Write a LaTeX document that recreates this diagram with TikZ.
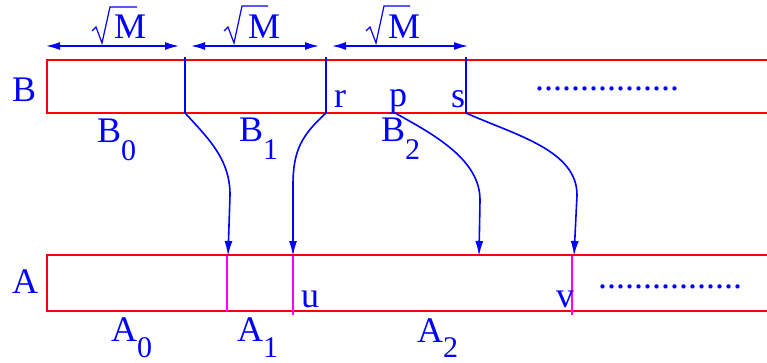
\documentclass[tikz,border=0pt]{standalone}
\usepackage{fontspec}
\setmainfont{Liberation Serif}
\usetikzlibrary{arrows.meta}
\definecolor{lblue}{RGB}{0,0,255}
\definecolor{lred}{RGB}{255,0,0}
\definecolor{lmag}{RGB}{255,0,255}
\newcommand\subl[3][18pt]{#2\raisebox{-#1}{\fontsize{30}{30}\selectfont #3}}
\begin{document}
\begin{tikzpicture}[x=1pt,y=-1pt,
  txt/.style={text=lblue,font=\fontsize{36}{36}\selectfont,inner sep=0pt,anchor=base west},
  redline/.style={draw=lred,line width=1.7pt},
  blueline/.style={draw=lblue,line width=1.6pt},
  radical/.style={draw=lblue,line width=1.2pt,line join=miter},
  magline/.style={draw=lmag,line width=1.3pt},
  dimarrow/.style={blueline,{Latex[length=14pt,width=8pt]}-{Latex[length=14pt,width=8pt]}},
  maparrow/.style={blueline,-{Latex[length=15pt,width=8pt]}}]
\useasboundingbox (0,0) rectangle (767,363);
% rectangles
\coordinate (Btl) at (47,60); \coordinate (Bbl) at (47,113);
\coordinate (Btr) at (790,60); \coordinate (Bbr) at (790,113);
\coordinate (Atl) at (47,255); \coordinate (Abl) at (47,311);
\coordinate (Atr) at (790,255); \coordinate (Abr) at (790,311);
\draw[redline] (Btr) -- (Btl) -- (Bbl) -- (Bbr);
\draw[redline] (Atr) -- (Atl) -- (Abl) -- (Abr);
% dimension arrows
\coordinate (d1a) at (46,46); \coordinate (d1b) at (179,46);
\coordinate (d2a) at (191,46); \coordinate (d2b) at (319,46);
\coordinate (d3a) at (332,46); \coordinate (d3b) at (468,46);
\draw[dimarrow] (d1a) -- (d1b);
\draw[dimarrow] (d2a) -- (d2b);
\draw[dimarrow] (d3a) -- (d3b);
% sqrt M labels
\draw[radical] (92,31) -- (96,27) -- (102,43) -- (110,7) -- (137,7);
\draw[radical] (224,31) -- (228,27) -- (234,43) -- (242,6) -- (268,6);
\draw[radical] (366,31) -- (370,27) -- (376,43) -- (384,6) -- (410,6);
\node[txt] (m1) at (114,39) {M};
\node[txt] (m2) at (248,39) {M};
\node[txt] (m3) at (388,39) {M};
% block boundaries in B
\coordinate (t1) at (185,57); \coordinate (b1) at (185,113);
\coordinate (t2) at (326,57); \coordinate (b2) at (326,113);
\coordinate (t3) at (466,57); \coordinate (b3) at (466,113);
\coordinate (pp) at (395,113);
\draw[blueline] (t1) -- (b1);
\draw[blueline] (t2) -- (b2);
\draw[blueline] (t3) -- (b3);
% targets in A
\coordinate (e1) at (228,256); \coordinate (e2) at (293,256);
\coordinate (e3) at (479,256); \coordinate (e4) at (574,256);
\coordinate (g1) at (227,256); \coordinate (f1) at (227,312);
\coordinate (g2) at (293,256); \coordinate (f2) at (293,315);
\coordinate (g4) at (572,256); \coordinate (f4) at (572,315);
\draw[magline] (g1) -- (f1);
\draw[magline] (g2) -- (f2);
\draw[magline] (g4) -- (f4);
% mapping arrows
\draw[maparrow] (b1) .. controls (210,140) and (230,160) .. (230,195) -- (e1);
\draw[maparrow] (b2) .. controls (302,135) and (293,150) .. (293,185) -- (e2);
\draw[maparrow] (pp) .. controls (435,135) and (480,160) .. (480,200) -- (e3);
\draw[maparrow] (b3) .. controls (515,135) and (577,150) .. (577,195) -- (e4);
% labels
\node[txt] (lB) at (12,102) {B};
\node[txt] (lA) at (12,293) {A};
\node[txt] (B0) at (97,143) {\subl{B}{0}};
\node[txt] (B1) at (239,142) {\subl{B}{1}};
\node[txt] (B2) at (381,142) {\subl{B}{2}};
\node[txt] (A0) at (111,341) {\subl[16pt]{A}{0}};
\node[txt] (A1) at (237,341) {\subl[16pt]{A}{1}};
\node[txt] (A2) at (417,342) {\subl[15pt]{A}{2}};
\node[txt] (lr) at (334,108) {r};
\node[txt] (lp) at (389,107) {p};
\node[txt] (ls) at (451,108) {s};
\node[txt] (lu) at (301,307) {u};
\node[txt] (lv) at (556,307) {v};
\node[txt] (dB) at (535,91) {................};
\node[txt] (dA) at (598,288) {................};
\end{tikzpicture}
\end{document}
